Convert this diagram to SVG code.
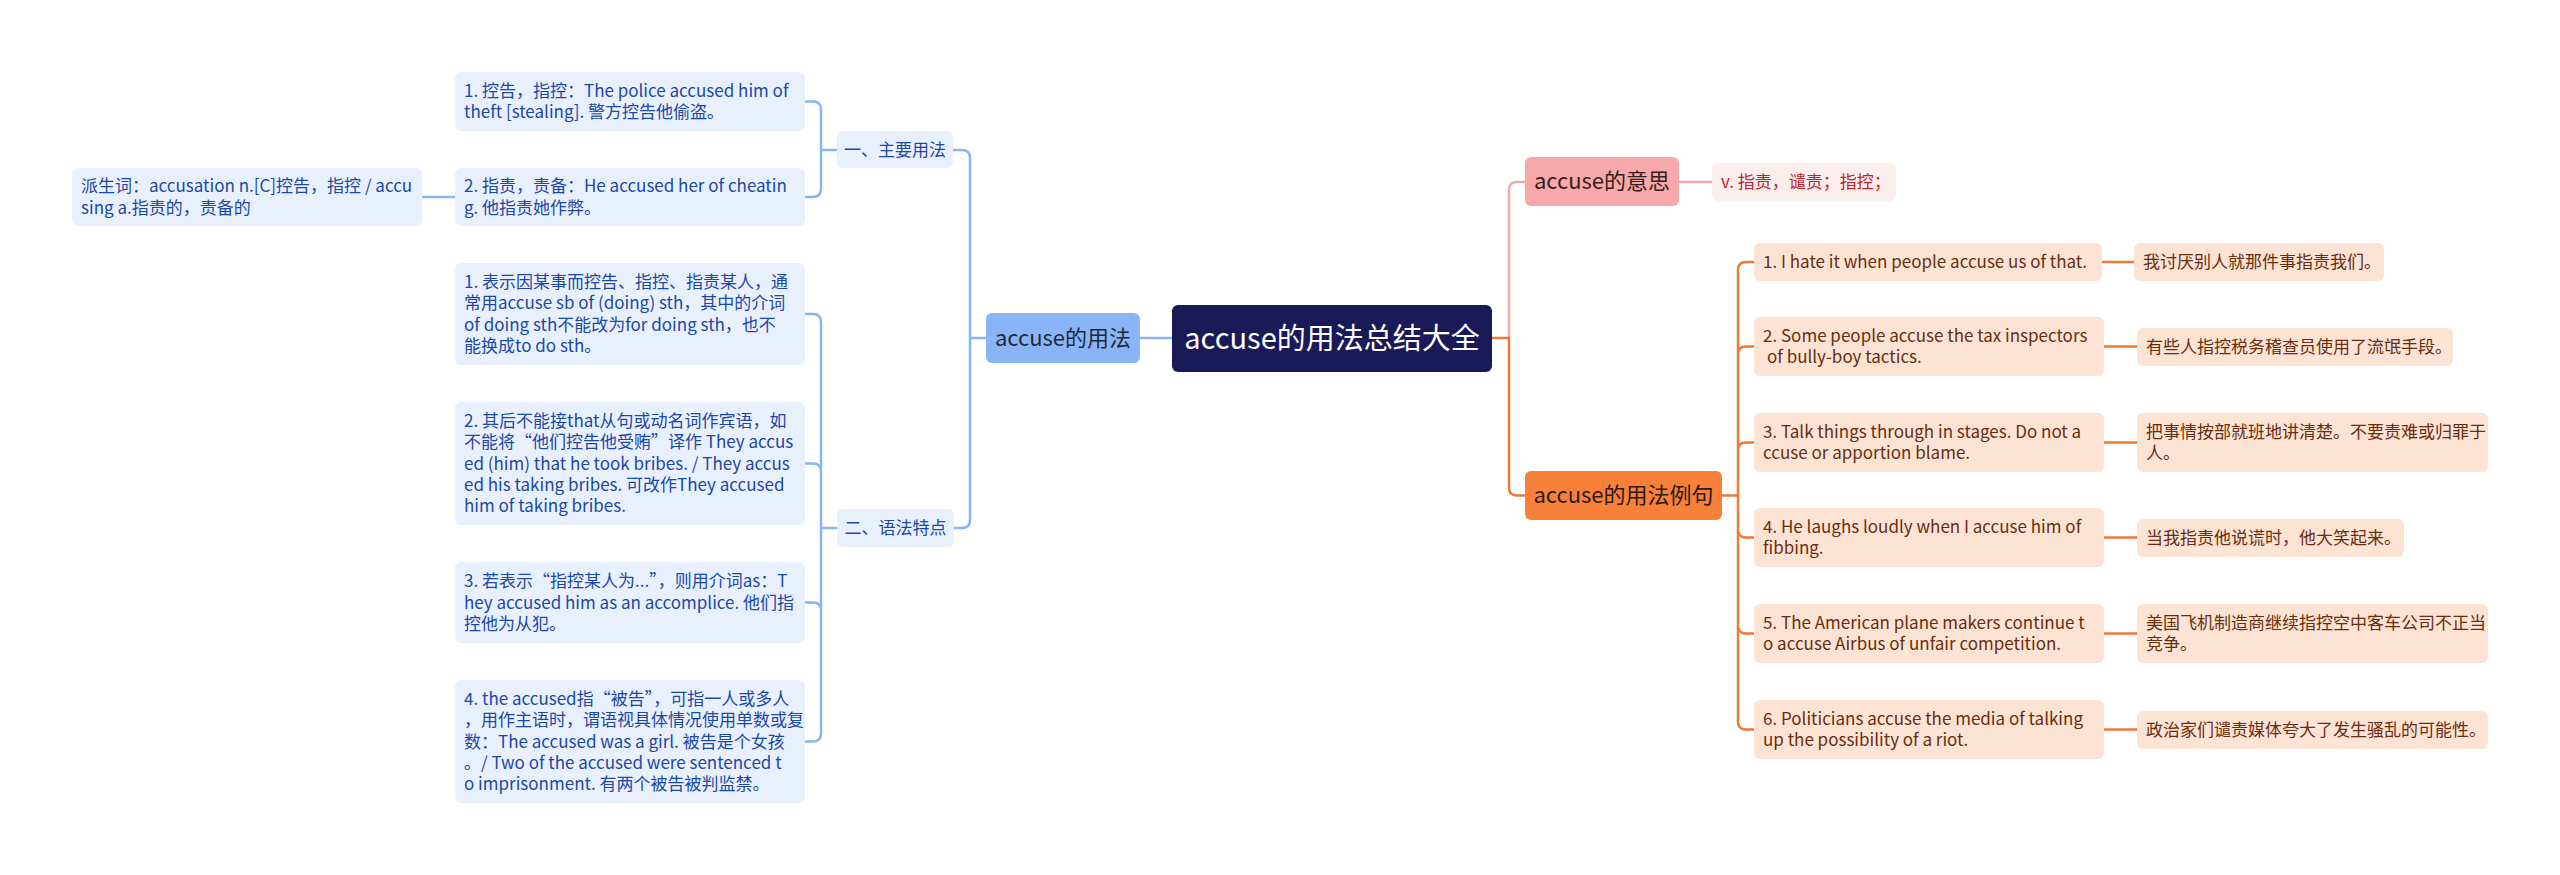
<svg xmlns="http://www.w3.org/2000/svg" width="2560" height="875" viewBox="0 0 2560 875">
<style>
text{font-family:"Noto Sans CJK SC","Noto Sans",sans-serif;}
.lb{fill:#e8f0fd;}
.lt{font-size:17px;fill:#1c48a6;}
.rb{fill:#fde3d4;}
.rt{font-size:17px;fill:#6a2d0e;}
.cb{fill:none;stroke:#8ab4f8;stroke-width:2.5;}
.co{fill:none;stroke:#ee7a34;stroke-width:2.5;}
.cp{fill:none;stroke:#f5a9a9;stroke-width:2.5;}
.mid{text-anchor:middle;}
</style>
<rect width="2560" height="875" fill="#ffffff"/>
<g id="connectors">
<path class="cb" d="M1172,338 H1140"/>
<path class="cb" d="M986,338 H970 M953,150 H962 Q970,150 970,158 V520 Q970,528 962,528 H954"/>
<path class="cb" d="M837,150 H821 M805,101.5 H813 Q821,101.5 821,109.5 V189 Q821,197 813,197 H805"/>
<path class="cb" d="M837,528 H821 M805,314 H813 Q821,314 821,322 V733.5 Q821,741.5 813,741.5 H805 M805,463.5 H813 Q821,463.5 821,471.5 M805,602.5 H813 Q821,602.5 821,610.5"/>
<path class="cb" d="M422,197 H455"/>
<path class="cp" d="M1509,338 V190 Q1509,182 1517,182 H1525"/>
<path class="cp" d="M1679,182 H1712"/>
<path class="co" d="M1492,338 H1509 V487.5 Q1509,495.5 1517,495.5 H1525"/>
<path class="co" d="M1722,495.5 H1738 M1754,262 H1746 Q1738,262 1738,270 V721.5 Q1738,729.5 1746,729.5 H1754 M1754,346.5 H1746 Q1738,346.5 1738,354.5 M1754,442.5 H1746 Q1738,442.5 1738,450.5 M1754,537.5 H1746 Q1738,537.5 1738,529.5 M1754,633.5 H1746 Q1738,633.5 1738,625.5"/>
<path class="co" d="M2102,262 H2134 M2104,346.5 H2137 M2104,442.5 H2137 M2104,537.5 H2137 M2104,633.5 H2137 M2104,729.5 H2137"/>
</g>
<g id="root">
<rect x="1172" y="305" width="320" height="67" rx="6" fill="#1b1a59"/>
<text x="1332" y="348.5" class="mid" font-size="29" fill="#ffffff">accuse的用法总结大全</text>
</g>
<g id="usage">
<rect x="986" y="313" width="154" height="50" rx="6" fill="#8ab4f8"/>
<text x="1063" y="345.8" class="mid" font-size="22" fill="#222a38">accuse的用法</text>
</g>
<g id="meaning">
<rect x="1525" y="157" width="154" height="49" rx="6" fill="#f8a8a8"/>
<text x="1602" y="189.3" class="mid" font-size="22" fill="#33201f">accuse的意思</text>
</g>
<g id="meaning-def">
<rect x="1712" y="163" width="184" height="38" rx="6" fill="#fdeeee"/>
<text x="1721" y="188" font-size="17" fill="#c01f28">v. 指责，谴责；指控；</text>
</g>
<g id="examples">
<rect x="1525" y="471" width="197" height="49" rx="6" fill="#f7803a"/>
<text x="1623.5" y="503.3" class="mid" font-size="22" fill="#2e1a0e">accuse的用法例句</text>
</g>
<g id="main-usage">
<rect x="837" y="131" width="116" height="37" rx="6" class="lb"/>
<text x="895" y="156" class="mid lt">一、主要用法</text>
</g>
<g id="grammar">
<rect x="837" y="509" width="117" height="38" rx="6" class="lb"/>
<text x="895.5" y="534" class="mid lt">二、语法特点</text>
</g>
<g id="mu1">
<rect x="455" y="72" width="350" height="59" rx="6" class="lb"/>
<text class="lt"><tspan x="464" y="96.9">1. 控告，指控：The police accused him of</tspan><tspan x="464" y="118.2">theft [stealing]. 警方控告他偷盗。</tspan></text>
</g>
<g id="mu2">
<rect x="455" y="168" width="350" height="58" rx="6" class="lb"/>
<text class="lt"><tspan x="464" y="192.4">2. 指责，责备：He accused her of cheatin</tspan><tspan x="464" y="213.7">g. 他指责她作弊。</tspan></text>
</g>
<g id="derived">
<rect x="72" y="168" width="350" height="58" rx="6" class="lb"/>
<text class="lt"><tspan x="81" y="192.4">派生词：accusation n.[C]控告，指控 / accu</tspan><tspan x="81" y="213.7">sing a.指责的，责备的</tspan></text>
</g>
<g id="g1">
<rect x="455" y="263" width="350" height="102" rx="6" class="lb"/>
<text class="lt"><tspan x="464" y="288.1">1. 表示因某事而控告、指控、指责某人，通</tspan><tspan x="464" y="309.4">常用accuse sb of (doing) sth，其中的介词</tspan><tspan x="464" y="330.7">of doing sth不能改为for doing sth，也不</tspan><tspan x="464" y="352">能换成to do sth。</tspan></text>
</g>
<g id="g2">
<rect x="455" y="402" width="350" height="123" rx="6" class="lb"/>
<text class="lt"><tspan x="464" y="426.9">2. 其后不能接that从句或动名词作宾语，如</tspan><tspan x="464" y="448.2">不能将“他们控告他受贿”译作 They accus</tspan><tspan x="464" y="469.5">ed (him) that he took bribes. / They accus</tspan><tspan x="464" y="490.8">ed his taking bribes. 可改作They accused</tspan><tspan x="464" y="512.1">him of taking bribes.</tspan></text>
</g>
<g id="g3">
<rect x="455" y="562" width="350" height="81" rx="6" class="lb"/>
<text class="lt"><tspan x="464" y="587.2">3. 若表示“指控某人为...”，则用介词as：T</tspan><tspan x="464" y="608.5">hey accused him as an accomplice. 他们指</tspan><tspan x="464" y="629.8">控他为从犯。</tspan></text>
</g>
<g id="g4">
<rect x="455" y="680" width="350" height="123" rx="6" class="lb"/>
<text class="lt"><tspan x="464" y="704.9">4. the accused指“被告”，可指一人或多人</tspan><tspan x="464" y="726.2">，用作主语时，谓语视具体情况使用单数或复</tspan><tspan x="464" y="747.5">数：The accused was a girl. 被告是个女孩</tspan><tspan x="464" y="768.8">。/ Two of the accused were sentenced t</tspan><tspan x="464" y="790.1">o imprisonment. 有两个被告被判监禁。</tspan></text>
</g>
<g id="ex1">
<rect x="1754" y="243" width="348" height="38" rx="6" class="rb"/>
<text class="rt" x="1763" y="268">1. I hate it when people accuse us of that.</text>
</g>
<g id="tr1">
<rect x="2134" y="243" width="250" height="38" rx="6" class="rb"/>
<text class="rt" x="2143" y="268">我讨厌别人就那件事指责我们。</text>
</g>
<g id="ex2">
<rect x="1754" y="317" width="350" height="59" rx="6" class="rb"/>
<text class="rt"><tspan x="1763" y="341.9">2. Some people accuse the tax inspectors</tspan><tspan x="1767" y="363.2">of bully-boy tactics.</tspan></text>
</g>
<g id="tr2">
<rect x="2137" y="328" width="316" height="38" rx="6" class="rb"/>
<text class="rt" x="2146" y="353">有些人指控税务稽查员使用了流氓手段。</text>
</g>
<g id="ex3">
<rect x="1754" y="413" width="350" height="59" rx="6" class="rb"/>
<text class="rt"><tspan x="1763" y="437.9">3. Talk things through in stages. Do not a</tspan><tspan x="1763" y="459.2">ccuse or apportion blame.</tspan></text>
</g>
<g id="tr3">
<rect x="2137" y="413" width="351" height="59" rx="6" class="rb"/>
<text class="rt"><tspan x="2146" y="437.9">把事情按部就班地讲清楚。不要责难或归罪于</tspan><tspan x="2146" y="459.2">人。</tspan></text>
</g>
<g id="ex4">
<rect x="1754" y="508" width="350" height="59" rx="6" class="rb"/>
<text class="rt"><tspan x="1763" y="532.9">4. He laughs loudly when I accuse him of</tspan><tspan x="1763" y="554.2">fibbing.</tspan></text>
</g>
<g id="tr4">
<rect x="2137" y="519" width="267" height="38" rx="6" class="rb"/>
<text class="rt" x="2146" y="544">当我指责他说谎时，他大笑起来。</text>
</g>
<g id="ex5">
<rect x="1754" y="604" width="350" height="59" rx="6" class="rb"/>
<text class="rt"><tspan x="1763" y="628.9">5. The American plane makers continue t</tspan><tspan x="1763" y="650.2">o accuse Airbus of unfair competition.</tspan></text>
</g>
<g id="tr5">
<rect x="2137" y="604" width="351" height="59" rx="6" class="rb"/>
<text class="rt"><tspan x="2146" y="628.9">美国飞机制造商继续指控空中客车公司不正当</tspan><tspan x="2146" y="650.2">竞争。</tspan></text>
</g>
<g id="ex6">
<rect x="1754" y="700" width="350" height="59" rx="6" class="rb"/>
<text class="rt"><tspan x="1763" y="724.9">6. Politicians accuse the media of talking</tspan><tspan x="1763" y="746.2">up the possibility of a riot.</tspan></text>
</g>
<g id="tr6">
<rect x="2137" y="711" width="351" height="38" rx="6" class="rb"/>
<text class="rt" x="2146" y="735.5">政治家们谴责媒体夸大了发生骚乱的可能性。</text>
</g>
</svg>
